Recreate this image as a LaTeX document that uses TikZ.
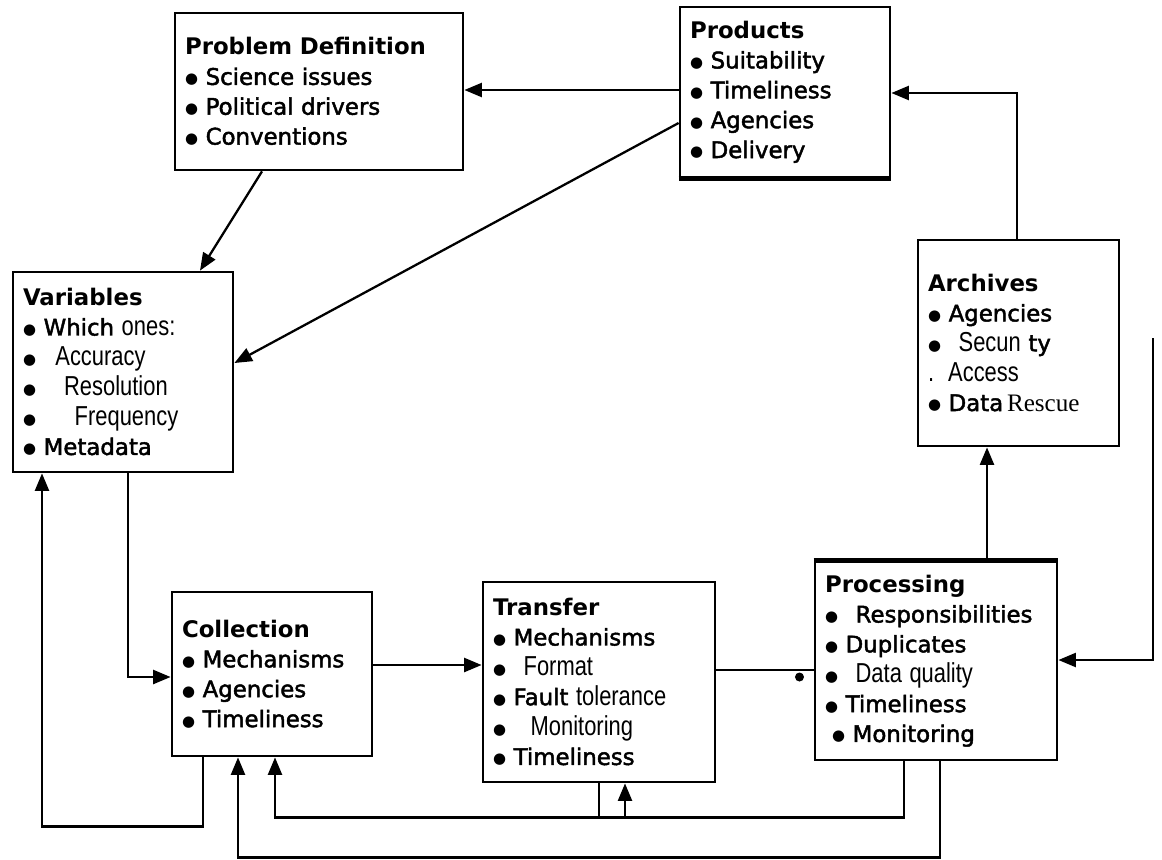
\documentclass[tikz,border=0pt]{standalone}
\usepackage{fontspec}
\setmainfont{DejaVu Sans}
\newfontfamily\plotfont[FakeBold=2]{DejaVu Sans}
\newfontfamily\narrowfont[FakeStretch=0.8,Scale=1.2]{Liberation Sans}
\newfontfamily\seriffont[Scale=1.1]{Liberation Serif}
\usetikzlibrary{arrows.meta,positioning}

\newcommand{\plt}[1]{{\plotfont #1}}
\newcommand{\nrw}[1]{{\narrowfont #1}}
\newcommand{\bl}{{\fontsize{8.5}{0}\selectfont\raisebox{0.6pt}{●}}}

\begin{document}
\begin{tikzpicture}[x=0.02cm,y=-0.02cm,->,>={Triangle[length=10pt,width=8pt]},line width=1.3pt,
    box/.style={draw,rectangle,line width=1.6pt,align=left,inner xsep=0.2cm,inner ysep=0pt,font=\fontsize{13}{17}\selectfont},
    dotnode/.style={circle,fill,inner sep=0pt,minimum size=0.18cm}]
    \useasboundingbox (0,0) rectangle (1162,859);

    \node[box,text width=5.36cm,minimum height=3.14cm] (def) at (319,91.5) {\textbf{Problem Definition}\\
        \bl\ \plt{Science issues}\\
        \bl\ \plt{Political drivers}\\
        \bl\ \plt{Conventions}};
    \node[box,text width=3.8cm,minimum height=3.4cm] (prod) at (785,92) {\textbf{Products}\\
        \bl\ \plt{Suitability}\\
        \bl\ \plt{Timeliness}\\
        \bl\ \plt{Agencies}\\
        \bl\ \plt{Delivery}};
    \node[box,text width=4.0cm,minimum height=4.0cm] (var) at (123,372) {\textbf{Variables}\\
        \bl\ \plt{Which} \nrw{ones:}\\
        \bl\hspace{11pt}\nrw{Accuracy}\\
        \bl\hspace{16pt}\nrw{Resolution}\\
        \bl\hspace{22pt}\nrw{Frequency}\\
        \bl\ \plt{Metadata}};
    \node[box,text width=3.62cm,minimum height=4.12cm] (arch) at (1018.5,343) {\textbf{Archives}\\
        \bl\ \plt{Agencies}\\
        \bl\hspace{10pt}\nrw{Secun} \plt{ty}\\
        \nrw{.}\hspace{8pt}\nrw{Access}\\
        \bl\ \plt{Data}\,{\seriffont Rescue}};
    \node[box,text width=3.6cm,minimum height=3.28cm] (coll) at (272,674) {\textbf{Collection}\\
        \bl\ \plt{Mechanisms}\\
        \bl\ \plt{Agencies}\\
        \bl\ \plt{Timeliness}};
    \node[box,text width=4.24cm,minimum height=4.0cm] (trans) at (599,682) {\textbf{Transfer}\\
        \bl\ \plt{Mechanisms}\\
        \bl\hspace{10pt}\nrw{Format}\\
        \bl\ \plt{Fault} \nrw{tolerance}\\
        \bl\hspace{14pt}\nrw{Monitoring}\\
        \bl\ \plt{Timeliness}};
    \node[box,text width=4.44cm,minimum height=3.96cm] (proc) at (936,661) {\textbf{Processing}\\
        \bl\hspace{10pt}\plt{Responsibilities}\\
        \bl\ \plt{Duplicates}\\
        \bl\hspace{10pt}\nrw{Data quality}\\
        \bl\ \plt{Timeliness}\\
        \hspace{4pt}\bl\ \plt{Monitoring}};

    % heavier edges
    \draw[-,line width=3pt] (prod.south west) -- (prod.south east);
    \draw[-,line width=3pt] (proc.north west) -- (proc.north east);

    \path
        (prod.west |- 0,90) edge (def.east |- 0,90)
        (prod.west |- 0,123) edge (var.east |- 0,363)
        (def.south -| 262,0) edge (var.north -| 200,0)
        (coll.east |- 0,665) edge (trans.west |- 0,665)
        (proc.north -| 987,0) edge (arch.south -| 987,0)
        ;

    \draw[-] (trans.east |- 0,670) -- (proc.west |- 0,670);
    \coordinate (pw) at (proc.west |- 0,677);
    \node[dotnode,left=0.17cm of pw] (dot) {};

    \draw (arch.north -| 1017,0) |- (prod.east |- 0,93);
    \draw (var.south -| 128,0) |- (coll.west |- 0,677);
    \draw (coll.south -| 203,0) -- ++(0,69) -| (var.south -| 42,0);
    \coordinate (rtop) at (1153,338);
    \draw (rtop) |- (proc.east |- 0,660);
    \draw (proc.south -| 904,0) -- ++(0,56) -| (coll.south -| 275,0);
    \draw (trans.south -| 625,0) ++(0,34) -- (trans.south -| 625,0);
    \draw[-] (trans.south -| 599,0) -- ++(0,34);
    \draw (proc.south -| 940,0) -- ++(0,96) -| (coll.south -| 238,0);
\end{tikzpicture}
\end{document}
